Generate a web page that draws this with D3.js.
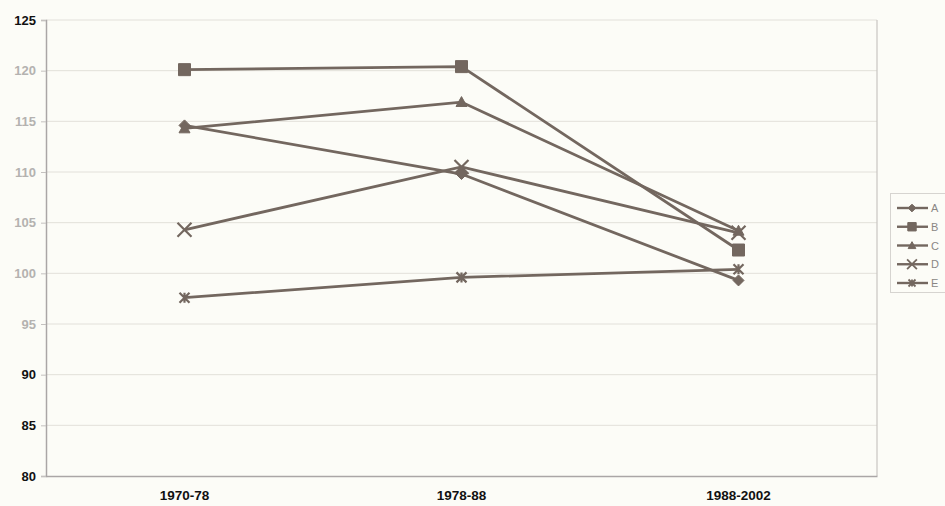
<!DOCTYPE html>
<html>
<head>
<meta charset="utf-8">
<script src="https://cdn.jsdelivr.net/npm/d3@7"></script>
<style>
  body { margin: 0; background: #fcfcf7; }
  svg { display: block; }
</style>
</head>
<body>
<div id="chart-area"></div>
<script>
// Index chart, five series over three periods

var periods = ["1970-78", "1978-88", "1988-2002"];
var seriesNames = ["A", "B", "C", "D", "E"];
var valuesA = [114.6, 109.8, 99.3];
var valuesB = [120.1, 120.4, 102.3];
var valuesC = [114.3, 116.9, 104.2];
var valuesD = [104.3, 110.5, 104.0];
var valuesE = [97.6, 99.6, 100.4];
var yTicks = [80, 85, 90, 95, 100, 105, 110, 115, 120, 125];

var seriesValues = [valuesA, valuesB, valuesC, valuesD, valuesE];
var markers = ["diamond", "square", "triangle", "x", "star"];

var width = 945, height = 506;
var plot = { left: 46, right: 877, top: 20, bottom: 476 };
var lineColor = "#73675f";

//////////  Scales  ///////////
var x = d3.scaleBand()
    .domain(periods)
    .range([plot.left, plot.right]);

var y = d3.scaleLinear()
    .domain([80, 125])
    .range([plot.bottom, plot.top]);

var svg = d3.select("#chart-area")
    .append("svg")
        .attr("width", width)
        .attr("height", height);

svg.append("rect")
    .attr("width", width)
    .attr("height", height)
    .attr("fill", "#fcfcf7");

// grid lines
svg.append("g")
    .selectAll("line")
    .data(yTicks.slice(1))
    .enter()
    .append("line")
        .attr("x1", plot.left)
        .attr("x2", plot.right)
        .attr("y1", function(d){ return y(d); })
        .attr("y2", function(d){ return y(d); })
        .attr("stroke", "#e2e0da")
        .attr("stroke-width", 1);

// right border of plot
svg.append("line")
    .attr("x1", plot.right).attr("x2", plot.right)
    .attr("y1", plot.top).attr("y2", plot.bottom)
    .attr("stroke", "#c8c5c2")
    .attr("stroke-width", 1.2);

// Y-Axis
var yAxisCall = d3.axisLeft(y)
    .tickValues(yTicks)
    .tickSize(5)
    .tickPadding(5);
var yAxis = svg.append("g")
    .attr("transform", "translate(" + plot.left + ", 0)")
    .call(yAxisCall);
yAxis.select(".domain").attr("stroke", "#aaa6a6").attr("stroke-width", 1.5);
yAxis.selectAll(".tick line").attr("stroke", "#c4c1bf");
yAxis.selectAll("text")
    .attr("font-family", "Liberation Sans, Arial, sans-serif")
    .attr("font-weight", "bold")
    .attr("font-size", "13px")
    .attr("fill", function(d){ return (d >= 95 && d <= 120) ? "#b4b2b0" : "#111"; });

// X-Axis
var xAxisCall = d3.axisBottom(x).tickSize(0).tickPadding(14);
var xAxis = svg.append("g")
    .attr("transform", "translate(0, " + plot.bottom + ")")
    .call(xAxisCall);
xAxis.select(".domain").attr("stroke", "#aaa6a6").attr("stroke-width", 1.5);
xAxis.selectAll("text")
    .attr("font-family", "Liberation Sans Narrow, Liberation Sans, Arial, sans-serif")
    .attr("font-weight", "bold")
    .attr("font-size", "13.5px")
    .attr("fill", "#111");

// marker shapes
function markerPath(type, s) {
    if (type === "diamond") return "M0," + (-s) + "L" + s + ",0L0," + s + "L" + (-s) + ",0Z";
    if (type === "square") return "M" + (-s) + "," + (-s) + "H" + s + "V" + s + "H" + (-s) + "Z";
    if (type === "triangle") return "M0," + (-s) + "L" + s + "," + (s * 0.8) + "L" + (-s) + "," + (s * 0.8) + "Z";
    if (type === "x") return "M" + (-s) + "," + (-s) + "L" + s + "," + s + "M" + s + "," + (-s) + "L" + (-s) + "," + s;
    // star: x with vertical bar
    return "M" + (-s) + "," + (-s) + "L" + s + "," + s + "M" + s + "," + (-s) + "L" + (-s) + "," + s +
        "M0," + (-s) + "V" + s;
}
var markerSize = [5.5, 6, 5.5, 7, 5];

function cx(i) { return x(periods[i]) + x.bandwidth() / 2; }

var line = d3.line()
    .x(function(d, i){ return cx(i); })
    .y(function(d){ return y(d); });

// lines
seriesValues.forEach(function(vals, k){
    svg.append("path")
        .datum(vals)
        .attr("d", line)
        .attr("fill", "none")
        .attr("stroke", lineColor)
        .attr("stroke-width", 2.8);
});

// markers
seriesValues.forEach(function(vals, k){
    var filled = markers[k] !== "x" && markers[k] !== "star";
    svg.append("g")
        .selectAll("path")
        .data(vals)
        .enter()
        .append("path")
            .attr("transform", function(d, i){ return "translate(" + cx(i) + "," + y(d) + ")"; })
            .attr("d", markerPath(markers[k], markerSize[k]))
            .attr("fill", filled ? lineColor : "none")
            .attr("stroke", lineColor)
            .attr("stroke-width", filled ? 1 : 2.2);
});

//////////  Legend  ///////////
var legend = svg.append("g");
legend.append("rect")
    .attr("x", 890.5)
    .attr("y", 193.5)
    .attr("width", 60)
    .attr("height", 99)
    .attr("fill", "#fcfcf7")
    .attr("stroke", "#d6d4d0");

var legendY = d3.scalePoint()
    .domain(seriesNames)
    .range([208, 283]);

seriesNames.forEach(function(name, k){
    var ly = legendY(name);
    var filled = markers[k] !== "x" && markers[k] !== "star";
    legend.append("line")
        .attr("x1", 897).attr("x2", 928)
        .attr("y1", ly).attr("y2", ly)
        .attr("stroke", lineColor)
        .attr("stroke-width", 2.4);
    legend.append("path")
        .attr("transform", "translate(912," + ly + ")")
        .attr("d", markerPath(markers[k], markerSize[k] * 0.7))
        .attr("fill", filled ? lineColor : "none")
        .attr("stroke", lineColor)
        .attr("stroke-width", filled ? 1 : 1.8);
    legend.append("text")
        .attr("x", 931)
        .attr("y", ly + 4)
        .attr("font-family", "Liberation Sans, Arial, sans-serif")
        .attr("font-size", "11px")
        .attr("fill", "#8a8684")
        .text(name);
});
</script>
</body>
</html>
